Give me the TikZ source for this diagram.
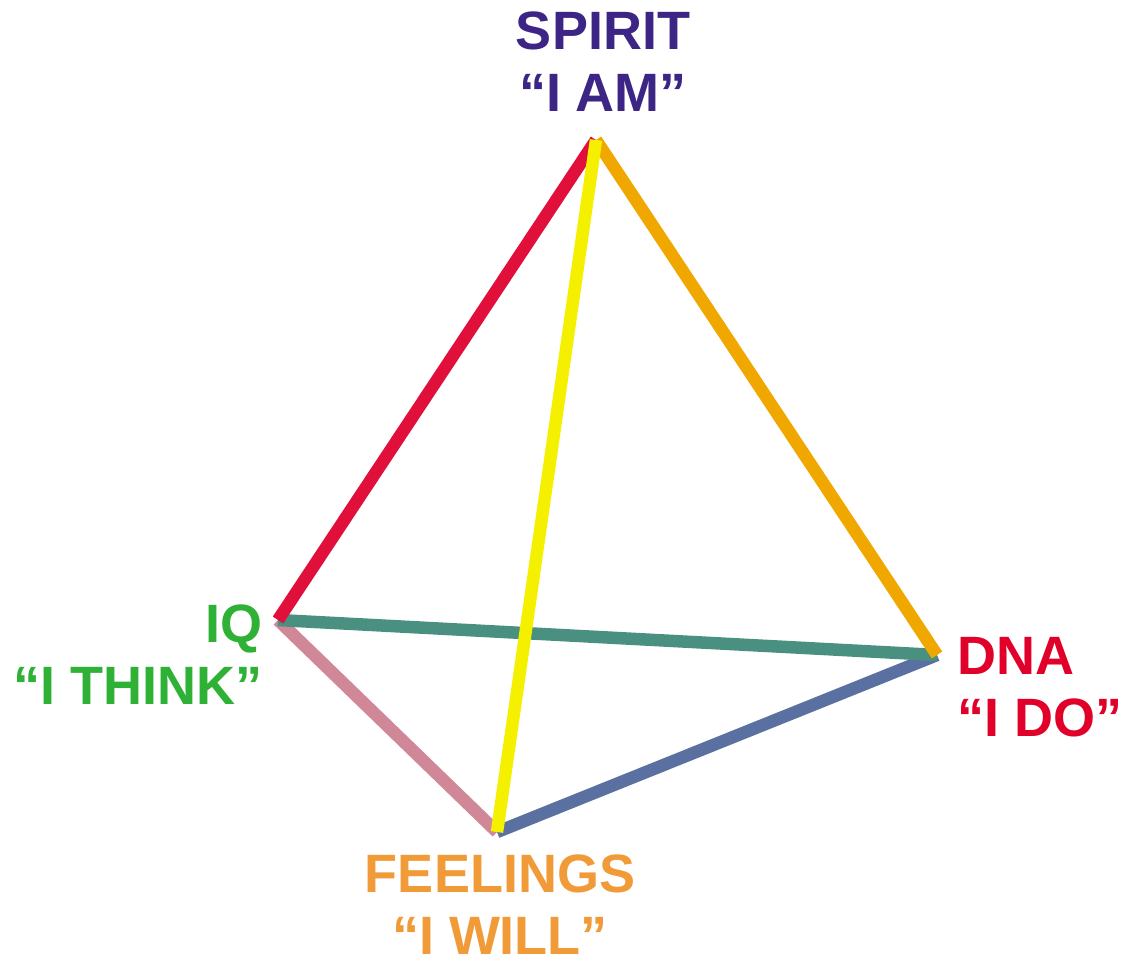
\documentclass[tikz,border=0pt]{standalone}
\usepackage{fontspec}
\setmainfont{Liberation Sans}
\usetikzlibrary{positioning}

\definecolor{spiritc}{HTML}{3C2584}
\definecolor{iqc}{HTML}{2EB135}
\definecolor{dnac}{HTML}{E0002A}
\definecolor{feelc}{HTML}{F09A38}
\definecolor{redge}{HTML}{E0103A}
\definecolor{yedge}{HTML}{F5F000}
\definecolor{oedge}{HTML}{F0A800}
\definecolor{tedge}{HTML}{4A9080}
\definecolor{pedge}{HTML}{D08898}
\definecolor{bedge}{HTML}{5A70A0}

\begin{document}
\begin{tikzpicture}[x=1pt,y=-1pt]
  \tikzstyle{edge}=[line width=12.5pt]
  \tikzstyle{lab}=[inner sep=0pt, font=\fontsize{54}{62}\selectfont\bfseries]
  \useasboundingbox (0,0) rectangle (1127,965);
  % corners of the pyramid
  \coordinate (spirit) at (596,140);
  \coordinate (iq) at (278,620);
  \coordinate (dna) at (937,655);
  \coordinate (feel) at (497,832);
  % back edges first
  \draw[edge, pedge] (iq) -- (feel);
  \draw[edge, bedge] (feel) -- (dna);
  \draw[edge, tedge] (iq) -- (dna);
  \draw[edge, redge] (iq) -- (spirit);
  \draw[edge, oedge] (spirit) -- (dna);
  \draw[edge, yedge] (spirit) -- (feel);
  % labels
  \node[lab, text=spiritc, align=center, anchor=north] (Lspirit) at (603,12) {SPIRIT\\“I AM”};
  \node[lab, text=iqc, align=right, anchor=north east] (Liq) at (263,605) {IQ\\“I THINK”};
  \node[lab, text=dnac, align=left, anchor=north west] (Ldna) at (957,637) {DNA\\“I DO”};
  \node[lab, text=feelc, align=center, anchor=north] (Lfeel) at (500,855) {FEELINGS\\“I WILL”};
\end{tikzpicture}
\end{document}
